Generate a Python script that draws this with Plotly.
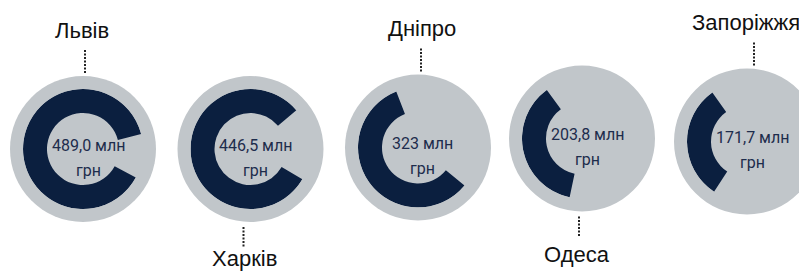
import plotly.graph_objects as go

# ---------------- data ----------------
cities = ["Львів", "Харків", "Дніпро", "Одеса", "Запоріжжя"]
values = [489.0, 446.5, 323.0, 203.8, 171.7]          # млн грн
value_labels = ["489,0 млн", "446,5 млн", "323 млн", "203,8 млн", "171,7 млн"]
unit_label = "грн"
label_side = ["top", "bottom", "top", "bottom", "top"]

# ---------------- style / layout ----------------
WIN_W, WIN_H = 807, 272
BODY_MARGIN = 8                           # default page margin around the plot div
W, H = WIN_W - BODY_MARGIN, WIN_H - BODY_MARGIN
FULL_SCALE = 555.0                        # value that would close the ring (360°)
centers_px = [(83, 149), (250.5, 149), (418, 147.5), (582, 138.5), (747, 141.5)]
arc_mid_deg = [173, 185, 216, 192, 181]   # where each arc is centred
dot_dx = [2, -7, 3, -3, 7]                # dotted leader offsets from circle centre
label_dx = [-1, -6, 4, -5, -1]
R_BG, R_OUT, R_IN = 73, 60, 36
GRAY = "#c1c6ca"
NAVY = "#0b1f3f"
TEXT_NAVY = "#1d2c4c"
LABEL_SIZE = 22
LABEL_HALF_BOX = 15


def px_x(x):
    return (x - BODY_MARGIN) / W


def px_y(y):
    return 1 - (y - BODY_MARGIN) / H


fig = go.Figure()
shapes = []
annotations = []

for i, (city, val) in enumerate(zip(cities, values)):
    cx, cy = centers_px[i]
    # background disc
    shapes.append(dict(type="circle", xref="paper", yref="paper",
                       x0=px_x(cx - R_BG), x1=px_x(cx + R_BG),
                       y0=px_y(cy + R_BG), y1=px_y(cy - R_BG),
                       fillcolor=GRAY, line=dict(width=0), layer="below"))
    pname = "polar" if i == 0 else f"polar{i + 1}"
    fig.add_trace(go.Barpolar(
        r=[R_OUT - R_IN], base=[R_IN], theta=[arc_mid_deg[i]],
        width=[val * 360.0 / FULL_SCALE],
        marker=dict(color=NAVY, line=dict(width=0)),
        subplot=pname, hoverinfo="skip", showlegend=False))
    fig.layout[pname] = dict(
        domain=dict(x=[max(0, px_x(cx - R_OUT)), min(1, px_x(cx + R_OUT))],
                    y=[px_y(cy + R_OUT), px_y(cy - R_OUT)]),
        bgcolor="rgba(0,0,0,0)",
        radialaxis=dict(visible=False, range=[0, R_OUT]),
        angularaxis=dict(visible=False),
        barmode="overlay",
    )
    # value text
    annotations.append(dict(x=px_x(cx + 5), y=px_y(cy - 4), xref="paper", yref="paper",
                            text=value_labels[i], showarrow=False,
                            font=dict(family="Roboto", size=16, color=TEXT_NAVY),
                            xanchor="center", yanchor="middle"))
    annotations.append(dict(x=px_x(cx + 5), y=px_y(cy + 21), xref="paper", yref="paper",
                            text=unit_label, showarrow=False,
                            font=dict(family="Roboto", size=16, color=TEXT_NAVY),
                            xanchor="center", yanchor="middle"))
    # leader + city label
    if label_side[i] == "top":
        edge = cy - R_BG
        y_a, y_b, y_lab = edge - 26, edge - 3, edge - 47
    else:
        edge = cy + R_BG
        y_a, y_b, y_lab = edge + 5, edge + 25, edge + 41
    shapes.append(dict(type="line", xref="paper", yref="paper",
                       x0=px_x(cx + dot_dx[i]), x1=px_x(cx + dot_dx[i]),
                       y0=px_y(y_a), y1=px_y(y_b),
                       line=dict(color="#222222", width=2, dash="2px,1.5px")))
    box_bottom = min(y_lab + LABEL_HALF_BOX, WIN_H)
    annotations.append(dict(x=px_x(cx + label_dx[i]), y=px_y(box_bottom),
                            xref="paper", yref="paper",
                            text=city, showarrow=False,
                            font=dict(family="Liberation Sans", size=LABEL_SIZE,
                                      color="#111111"),
                            xanchor="center", yanchor="bottom", borderpad=0))

fig.update_layout(
    width=W, height=H,
    margin=dict(l=0, r=0, t=0, b=0),
    paper_bgcolor="white", plot_bgcolor="white",
    shapes=shapes, annotations=annotations,
    showlegend=False,
)

fig.write_html("out.html")
